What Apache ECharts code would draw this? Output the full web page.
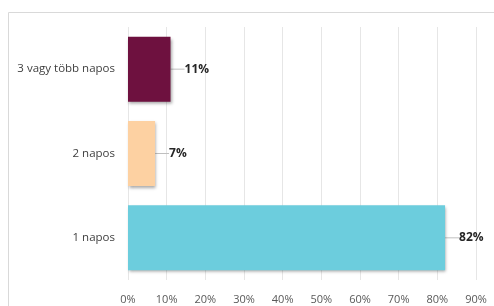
<!DOCTYPE html>
<html>
<head>
<meta charset="utf-8">
<script src="https://cdn.jsdelivr.net/npm/echarts@6/dist/echarts.min.js"></script>
<style>
  html, body { margin: 0; padding: 0; background: #fff; }
  #chart { width: 494px; height: 306px; }
</style>
</head>
<body>
<div id="chart"></div>
<script>
    var categories = ['1 napos', '2 napos', '3 vagy több napos'];
    var values = [82, 7, 11];
    var colors = ['#6ccddd', '#fdd1a2', '#6e113f'];
    var tickMax = 90;
    var tickStep = 10;

    var chart = echarts.init(document.getElementById('chart'));
    var option = {
        animation: false,
        textStyle: { fontFamily: 'Open Sans' },
        graphic: [{
            type: 'rect',
            shape: { x: 8.5, y: 12.5, width: 600, height: 400 },
            style: { fill: 'none', stroke: '#d9d9d9', lineWidth: 1 },
            silent: true
        }],
        grid: { left: 128, right: 18, top: 27, bottom: 26 },
        xAxis: {
            type: 'value',
            min: 0,
            max: tickMax,
            interval: tickStep,
            axisLine: { show: false },
            axisTick: { show: false },
            splitLine: { lineStyle: { color: '#e6e6e6' } },
            axisLabel: {
                formatter: '{value}%',
                color: '#595959',
                fontSize: 11,
                margin: 14
            }
        },
        yAxis: {
            type: 'category',
            data: categories,
            axisLine: { show: false },
            axisTick: { show: false },
            axisLabel: { color: '#404040', fontSize: 11.5, margin: 13 }
        },
        series: [{
            type: 'bar',
            data: values.map(function (v, i) {
                return { value: v, itemStyle: { color: colors[i] } };
            }),
            barCategoryGap: '23%',
            itemStyle: {
                shadowColor: 'rgba(0,0,0,0.35)',
                shadowBlur: 3,
                shadowOffsetX: 1,
                shadowOffsetY: 2
            },
            label: {
                show: true,
                position: 'right',
                distance: 2,
                formatter: '{c}%',
                fontWeight: 'bold',
                fontSize: 12,
                color: '#262626'
            },
            labelLayout: { dx: 12 },
            labelLine: { show: true, lineStyle: { color: '#bfbfbf', width: 1 } }
        }]
    };
    chart.setOption(option);
</script>
</body>
</html>
